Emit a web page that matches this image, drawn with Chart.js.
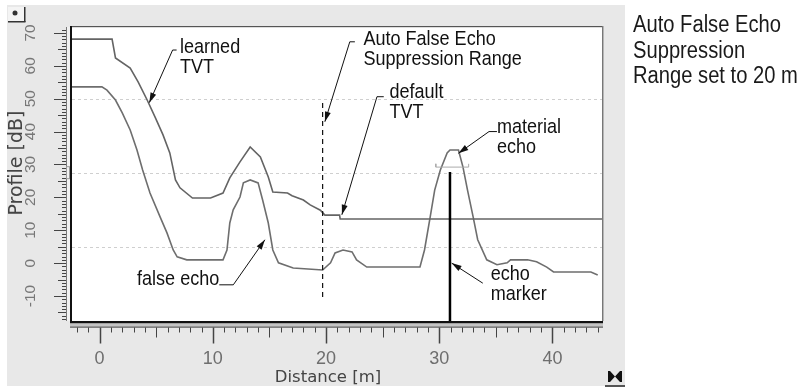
<!DOCTYPE html>
<html>
<head>
<meta charset="utf-8">
<script src="https://cdn.jsdelivr.net/npm/chart.js@4.4.0/dist/chart.umd.min.js"></script>
<style>
  body { margin: 0; background: #fff; }
  #wrap { position: relative; width: 805px; height: 388px; }
  #note {
    position: absolute; left: 633px; top: 12px;
    font: 23px 'Liberation Sans', Arial, sans-serif;
    line-height: 25.5px; color: #1a1a1a;
    white-space: nowrap;
    transform: scaleX(0.877); transform-origin: 0 0;
  }
</style>
</head>
<body>
<div id="wrap">
  <canvas id="profileChart" width="805" height="388"></canvas>
  <div id="note">Auto False Echo<br>Suppression<br>Range set to 20 m</div>
</div>
<script>
// learned TVT (falls back to the default TVT past the suppression range)
const tvtDist  = [-2.44, 1.1, 1.4, 2.7, 3.4, 4.2, 4.9, 5.6, 6.2, 6.7, 7.1, 8.2, 9.8, 10.9, 11.5, 12.4, 13.3, 14.2, 14.9, 15.3, 16.6, 17.0, 18.0, 18.6, 19.5, 19.9, 21.2, 21.25, 44.4];
const tvtLevel = [68.1, 68.1, 62.4, 59.3, 55.1, 49.6, 44.4, 39.0, 33.5, 25.3, 22.9, 19.8, 19.8, 21.3, 25.9, 30.8, 35.3, 32.3, 26.2, 21.6, 21.3, 20.5, 19.2, 17.7, 16.1, 14.6, 14.6, 13.4, 13.4];

// echo profile
const profileDist  = [-2.44, 0.2, 0.65, 1.4, 2.0, 2.7, 3.3, 3.8, 4.45, 5.35, 5.95, 6.5, 6.85, 7.7, 10.9, 11.25, 11.5, 11.8, 12.4, 12.7, 13.3, 14.0, 14.4, 14.9, 15.3, 15.8, 17.1, 19.7, 20.4, 20.8, 21.5, 22.3, 22.7, 23.6, 28.3, 28.7, 29.2, 29.6, 30.1, 30.7, 30.95, 31.7, 32.1, 32.5, 33.0, 33.4, 34.2, 35.1, 36.0, 36.3, 37.8, 38.6, 39.5, 40.1, 43.4, 44.0];
const profileLevel = [53.6, 53.6, 52.6, 49.6, 45.7, 40.5, 34.4, 28.3, 21.3, 14.0, 9.2, 4.0, 1.9, 1.0, 1.0, 4.0, 12.2, 16.2, 20.1, 24.4, 25.3, 24.4, 19.2, 12.2, 4.0, 0.1, -1.5, -2.1, 0.1, 3.1, 4.0, 3.4, 1.0, -1.2, -1.2, 4.0, 14.0, 22.2, 28.3, 33.5, 34.4, 34.4, 29.2, 22.2, 14.0, 7.1, 1.0, -0.5, 0.1, 1.0, 1.0, 0.4, -1.2, -2.7, -2.7, -3.6];

const echoDist = 30.95;
const echoLevel = 27.7;
const suppressionRange = 19.7;
const suppressionSpan = [48.7, -10.6];
const echoWindowDist = [29.7, 29.7, 32.6, 32.6];
const echoWindowLevel = [30.2, 29.2, 29.2, 30.2];

const xMin = -2.44, xMax = 44.38;
const yMin = -17.6, yMax = 71.8;
const xLabels = [0, 10, 20, 30, 40];
const yLabels = [-10, 0, 10, 20, 30, 40, 50, 60, 70];
const gridLevels = [5, 27.5, 50];

const callouts = [
  { lines: ['learned', 'TVT'], at: [7.1, 64.0], path: [[6.8, 64.8], [6.45, 64.8], [4.39, 48.8]] },
  { lines: ['Auto False Echo', 'Suppression Range'], at: [23.3, 66.3], path: [[22.55, 67.3], [22.1, 67.3], [19.9, 43.0]] },
  { lines: ['default', 'TVT'], at: [25.6, 50.1], path: [[25.1, 50.6], [24.5, 50.6], [21.4, 14.7]] },
  { lines: ['material', 'echo'], at: [35.1, 39.5], path: [[35.1, 40.0], [34.4, 40.0], [31.7, 33.4]] },
  { lines: ['false echo'], at: [10.57, -6.6], align: 'right', path: [[10.57, -6.6], [11.81, -6.6], [14.6, 7.1]] },
  { lines: ['echo', 'marker'], at: [34.55, -5.1], path: [[33.85, -6.1], [31.1, 0.0]] }
];

const pts = (xs, ys) => xs.map((x, i) => ({ x: x, y: ys[i] }));

const frame = {
  id: 'frame',
  beforeDraw(chart) {
    const { ctx, chartArea: a } = chart;
    const y = chart.scales.y;
    ctx.save();
    ctx.fillStyle = '#fff';
    ctx.fillRect(0, 0, chart.width, chart.height);
    ctx.fillStyle = '#e8e8e8';
    ctx.fillRect(7, 5, 618, 381);
    ctx.fillStyle = '#fff';
    ctx.fillRect(a.left, a.top, a.right - a.left, a.bottom - a.top);
    // dotted grid
    ctx.strokeStyle = '#cfcfcf';
    ctx.lineWidth = 1;
    ctx.setLineDash([3, 3]);
    gridLevels.forEach(v => {
      const py = Math.round(y.getPixelForValue(v)) + 0.5;
      ctx.beginPath(); ctx.moveTo(a.left, py); ctx.lineTo(a.right, py); ctx.stroke();
    });
    ctx.restore();
  },
  afterDraw(chart) {
    const { ctx, chartArea: a } = chart;
    const x = chart.scales.x, y = chart.scales.y;
    ctx.save();

    // plot frame
    ctx.fillStyle = '#111';
    ctx.fillRect(a.left - 2, a.top - 1, 2, a.bottom - a.top + 1);
    ctx.fillStyle = '#555';
    ctx.fillRect(a.left, a.top - 1, a.right - a.left + 1, 1.2);
    ctx.fillStyle = '#777';
    ctx.fillRect(a.right, a.top - 1, 1, a.bottom - a.top + 1);
    ctx.fillStyle = '#b5b5b5';
    ctx.fillRect(a.right + 1, a.top - 1, 1, a.bottom - a.top + 1);
    // bottom rail
    ctx.fillStyle = '#111';
    ctx.fillRect(a.left - 2, a.bottom, a.right - a.left + 3, 2.5);
    ctx.fillStyle = '#c4c4c4';
    ctx.fillRect(a.left - 2, a.bottom + 2.5, a.right - a.left + 3, 3);
    ctx.fillStyle = '#555';
    ctx.fillRect(a.left - 2, a.bottom + 5.5, a.right - a.left + 3, 1.2);

    // x ruler
    const xt = a.bottom + 6.5;
    ctx.strokeStyle = '#444';
    ctx.lineWidth = 1;
    for (let v = Math.ceil(xMin); v <= Math.floor(xMax); v++) {
      const px = Math.round(x.getPixelForValue(v)) + 0.5;
      const len = v % 10 === 0 ? 16 : (v % 5 === 0 ? 10 : 5);
      ctx.lineWidth = v % 10 === 0 ? 1.5 : 1;
      ctx.beginPath(); ctx.moveTo(px, xt); ctx.lineTo(px, xt + len); ctx.stroke();
    }
    ctx.lineWidth = 1;
    ctx.fillStyle = '#6e6e6e';
    ctx.font = '18px "Liberation Sans", Arial, sans-serif';
    ctx.textAlign = 'center';
    ctx.textBaseline = 'alphabetic';
    xLabels.forEach(v => ctx.fillText(String(v), x.getPixelForValue(v), 364));

    // y ruler
    const rx = 66;
    ctx.fillStyle = '#f1f1f1';
    ctx.fillRect(rx, a.top, a.left - 2 - rx, a.bottom - a.top);
    ctx.strokeStyle = '#777';
    ctx.beginPath(); ctx.moveTo(rx + 0.5, a.top); ctx.lineTo(rx + 0.5, a.bottom); ctx.stroke();
    ctx.strokeStyle = '#444';
    for (let v = Math.ceil(yMin); v <= Math.floor(yMax); v++) {
      const py = Math.round(y.getPixelForValue(v)) + 0.5;
      const len = v % 10 === 0 ? 12 : (v % 5 === 0 ? 8 : 4);
      ctx.beginPath(); ctx.moveTo(rx, py); ctx.lineTo(rx - len, py); ctx.stroke();
    }
    // level marker on the ruler
    const my = y.getPixelForValue(27.5);
    ctx.strokeStyle = '#9a9a9a';
    ctx.strokeRect(66.5, my - 6, 3, 12);

    ctx.fillStyle = '#777';
    ctx.font = '15.5px "Liberation Sans", Arial, sans-serif';
    ctx.textBaseline = 'middle';
    yLabels.forEach(v => {
      ctx.save();
      ctx.translate(31, y.getPixelForValue(v));
      ctx.rotate(-Math.PI / 2);
      ctx.fillText(String(v), 0, 0);
      ctx.restore();
    });

    // axis titles
    ctx.fillStyle = '#444';
    ctx.font = '19px "DejaVu Sans", sans-serif';
    ctx.save();
    ctx.translate(17, 163);
    ctx.rotate(-Math.PI / 2);
    ctx.fillText('Profile [dB]', 0, 0);
    ctx.restore();
    ctx.font = '16.5px "DejaVu Sans", sans-serif';
    ctx.textBaseline = 'alphabetic';
    ctx.fillText('Distance [m]', 328, 382);

    // callouts
    ctx.strokeStyle = '#111';
    ctx.fillStyle = '#111';
    ctx.lineWidth = 1;
    ctx.font = '20.5px "Liberation Sans", Arial, sans-serif';
    callouts.forEach(c => {
      const p = c.path.map(q => [x.getPixelForValue(q[0]), y.getPixelForValue(q[1])]);
      ctx.beginPath();
      p.forEach((q, i) => i ? ctx.lineTo(q[0], q[1]) : ctx.moveTo(q[0], q[1]));
      ctx.stroke();
      const [tx, ty] = p[p.length - 1];
      const [sx, sy] = p[p.length - 2];
      const ang = Math.atan2(ty - sy, tx - sx);
      ctx.beginPath();
      ctx.moveTo(tx, ty);
      ctx.lineTo(tx - 10 * Math.cos(ang) + 3 * Math.sin(ang), ty - 10 * Math.sin(ang) - 3 * Math.cos(ang));
      ctx.lineTo(tx - 10 * Math.cos(ang) - 3 * Math.sin(ang), ty - 10 * Math.sin(ang) + 3 * Math.cos(ang));
      ctx.closePath();
      ctx.fill();
      ctx.textAlign = c.align || 'left';
      const lx = x.getPixelForValue(c.at[0]), ly = y.getPixelForValue(c.at[1]);
      ctx.save();
      ctx.translate(lx, ly);
      ctx.scale(0.88, 1);   // condensed face
      c.lines.forEach((t, i) => ctx.fillText(t, 0, i * 20));
      ctx.restore();
    });

    // corner buttons
    ctx.fillStyle = '#f4f4f4';
    ctx.fillRect(8, 7, 17, 15);
    ctx.fillStyle = '#333';
    ctx.fillRect(24, 7, 1.5, 15);
    ctx.fillRect(8, 21, 17.5, 1.5);
    ctx.beginPath(); ctx.arc(15, 13, 2.5, 0, Math.PI * 2); ctx.fill();

    ctx.fillStyle = '#111';
    ctx.fillRect(608, 371, 2, 11);
    ctx.fillRect(620, 371, 2, 11);
    ctx.beginPath();
    ctx.moveTo(610, 371); ctx.lineTo(615, 376.5); ctx.lineTo(610, 382);
    ctx.moveTo(620, 371); ctx.lineTo(615, 376.5); ctx.lineTo(620, 382);
    ctx.fill();
    ctx.fillStyle = '#555';
    ctx.fillRect(605, 385, 20, 2);
    ctx.restore();
  }
};

new Chart(document.getElementById('profileChart'), {
  type: 'line',
  data: {
    datasets: [
      { label: 'echo marker', data: [{ x: echoDist, y: echoLevel }, { x: echoDist, y: yMin }], borderColor: '#000', borderWidth: 2.5 },
      { label: 'suppression range', data: [{ x: suppressionRange, y: suppressionSpan[0] }, { x: suppressionRange, y: suppressionSpan[1] }], borderColor: '#111', borderWidth: 1.2, borderDash: [5, 4] },
      { label: 'TVT', data: pts(tvtDist, tvtLevel), borderColor: '#646464', borderWidth: 1.6 },
      { label: 'echo window', data: pts(echoWindowDist, echoWindowLevel), borderColor: '#ababab', borderWidth: 1 },
      { label: 'profile', data: pts(profileDist, profileLevel), borderColor: '#6e6e6e', borderWidth: 1.6 }
    ]
  },
  options: {
    responsive: false,
    animation: false,
    devicePixelRatio: 1,
    layout: { padding: { left: 72, top: 27, right: 203, bottom: 67 } },
    scales: {
      x: { type: 'linear', min: xMin, max: xMax, display: false },
      y: { type: 'linear', min: yMin, max: yMax, display: false }
    },
    elements: { point: { radius: 0 }, line: { tension: 0, fill: false } },
    plugins: { legend: { display: false }, tooltip: { enabled: false } }
  },
  plugins: [frame]
});
</script>
</body>
</html>
